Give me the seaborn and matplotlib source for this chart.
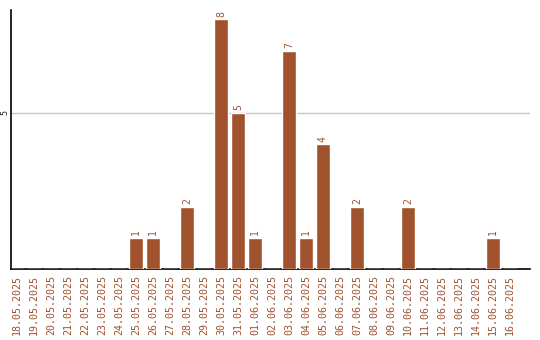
import matplotlib
matplotlib.use("Agg")
import matplotlib.pyplot as plt
import seaborn as sns
import pandas as pd

dates = ["18.05.2025", "19.05.2025", "20.05.2025", "21.05.2025", "22.05.2025",
         "23.05.2025", "24.05.2025", "25.05.2025", "26.05.2025", "27.05.2025",
         "28.05.2025", "29.05.2025", "30.05.2025", "31.05.2025", "01.06.2025",
         "02.06.2025", "03.06.2025", "04.06.2025", "05.06.2025", "06.06.2025",
         "07.06.2025", "08.06.2025", "09.06.2025", "10.06.2025", "11.06.2025",
         "12.06.2025", "13.06.2025", "14.06.2025", "15.06.2025", "16.06.2025"]
counts = [0, 0, 0, 0, 0, 0, 0, 1, 1, 0,
          2, 0, 8, 5, 1, 0, 7, 1, 4, 0,
          2, 0, 0, 2, 0, 0, 0, 0, 1, 0]

color = "#A0522D"
df = pd.DataFrame({"date": dates, "count": counts})

sns.set_style("white")
plt.rcParams["font.family"] = ["DejaVu Sans Mono", "DejaVu Sans"]

fig = plt.figure(figsize=(5.4, 3.4), dpi=100)
ax = fig.add_axes([11 / 540, 1 - 269 / 340, 519 / 540, 259 / 340])

sns.barplot(data=df, x="date", y="count", color=color, saturation=1,
            width=14 / 17, ax=ax, zorder=3)

ax.set_xlim(-0.35, 30.18)
ax.set_ylim(0, 8.3)
ax.set_yticks([5])
ax.set_yticklabels(["5"], rotation=90, va="center", fontsize=6)
ax.tick_params(axis="y", length=0, pad=1)
ax.tick_params(axis="x", length=0, pad=4, labelsize=7.2, labelcolor=color)
for lbl in ax.get_xticklabels():
    lbl.set_rotation(90)
ax.grid(axis="y", color="#c8c8c8", linewidth=1, zorder=0)
ax.set_xlabel("")
ax.set_ylabel("")

for s in ["top", "right"]:
    ax.spines[s].set_visible(False)
for s in ["left", "bottom"]:
    ax.spines[s].set_color("black")
    ax.spines[s].set_linewidth(1.2)

for i, v in enumerate(counts):
    if v > 0:
        ax.text(i, v + 0.08, str(v), rotation=90, ha="center", va="bottom",
                fontsize=7, color=color)

fig.savefig("out.png", dpi=100)
